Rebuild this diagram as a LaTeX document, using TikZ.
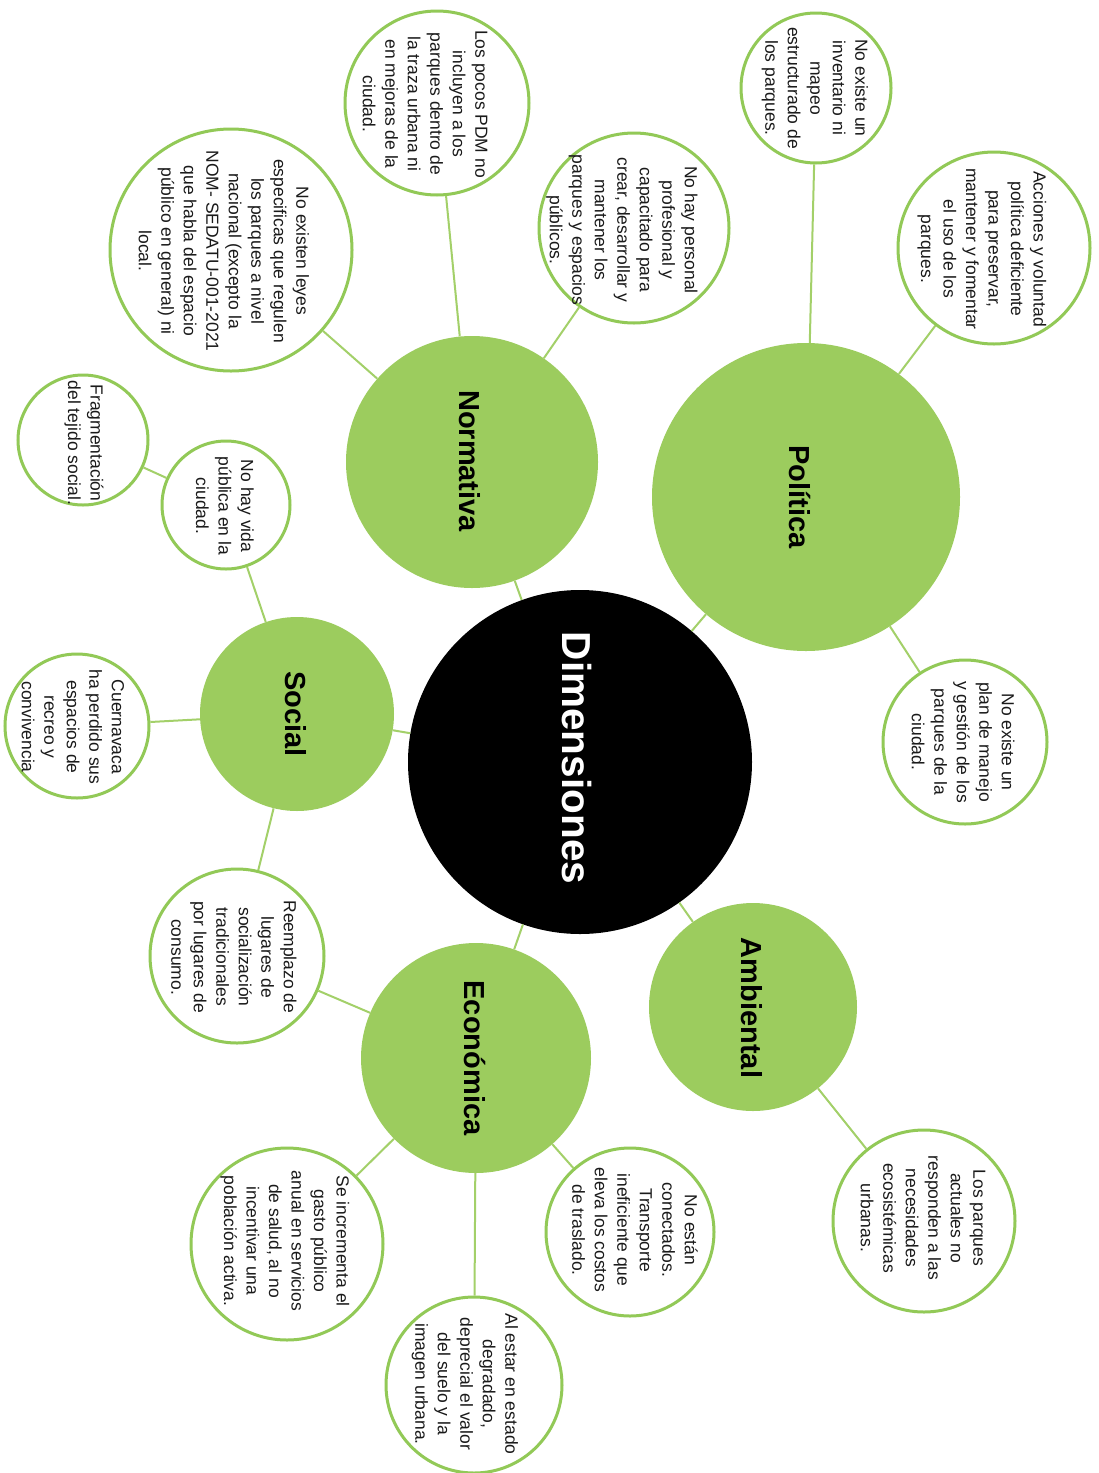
\documentclass[tikz,border=0pt]{standalone}
\usepackage{fontspec}
\setmainfont{Liberation Sans}
\definecolor{mygreen}{HTML}{9CCC5E}
\definecolor{ringgreen}{HTML}{92C957}
\definecolor{linegreen}{HTML}{A3D069}
\definecolor{txtgray}{HTML}{1A1A1A}
\tikzset{
  big/.style={circle, fill=mygreen, draw=none, minimum size=#1, inner sep=0pt},
  small/.style={circle, draw=ringgreen, line width=3pt, fill=white, minimum size=#1, inner sep=0pt},
  txt/.style={rotate=-90, align=center, inner sep=0pt, text=txtgray, font=\fontsize{17.5}{22.5}\selectfont},
  bigtxt/.style={rotate=-90, inner sep=0pt, text=black, font=\fontsize{29}{34}\selectfont\bfseries},
  link/.style={draw=linegreen, line width=2pt},
}
\begin{document}
\begin{tikzpicture}[x=1pt,y=-1pt]
\useasboundingbox[fill=white] (0,0) rectangle (1099,1473);
% main circles
\node[big=344pt, fill=black] (dim) at (580,762) {};
\node[bigtxt, text=white, font=\fontsize{40.5}{46}\selectfont\bfseries] (tdim) at (577,758) {Dimensiones};
\node[big=308pt] (pol) at (806,497) {};
\node[bigtxt] (tpol) at (800,497) {Política};
\node[big=252pt] (nor) at (472,462) {};
\node[bigtxt] (tnor) at (470,461) {Normativa};
\node[big=194pt] (soc) at (297,714) {};
\node[bigtxt] (tsoc) at (296,714) {Social};
\node[big=230pt] (eco) at (476,1058) {};
\node[bigtxt] (teco) at (475,1058) {Económica};
\node[big=208pt] (amb) at (753,1007) {};
\node[bigtxt] (tamb) at (752,1008) {Ambiental};
% small circles
\node[small=150pt] (inv) at (816,88) {};
\node[txt] (tinv) at (815,88) {No existe un\\inventario ni\\mapeo\\estructurado de\\los parques.};
\node[small=192pt] (acc) at (994,248) {};
\node[txt] (tacc) at (982,249) {Acciones y voluntad\\política deficiente\\para preservar,\\mantener y fomentar\\el uso de los\\parques.};
\node[small=164pt] (plan) at (965,742) {};
\node[txt] (tplan) at (963,742) {No existe un\\plan de manejo\\y gestión de los\\parques de la\\ciudad.};
\node[small=182pt] (act) at (924,1221) {};
\node[txt] (tact) at (923,1218) {Los parques\\actuales no\\responden a las\\necesidades\\ecosistémicas\\urbanas.};
\node[small=168pt] (con) at (630,1232) {};
\node[txt] (tcon) at (635,1230) {No están\\conectados.\\Transporte\\ineficiente que\\eleva los costos\\de traslado.};
\node[small=176pt] (deg) at (474,1385) {};
\node[txt] (tdeg) at (465,1384) {Al estar en estado\\degradado,\\deprecial el valor\\del suelo y la\\imagen urbana.};
\node[small=192pt] (gas) at (287,1244) {};
\node[txt] (tgas) at (285,1241) {Se incrementa el\\gasto público\\anual en servicios\\de salud, al no\\incentivar una\\población activa.};
\node[small=174pt] (ree) at (237,956) {};
\node[txt] (tree) at (234,957) {Reemplazo de\\lugares de\\socialización\\tradicionales\\por lugares de\\consumo.};
\node[small=144pt] (cue) at (77,726) {};
\node[txt] (tcue) at (73,727) {Cuernavaca\\ha perdido sus\\espacios de\\recreo y\\convivencia};
\node[small=128pt] (vid) at (226,505) {};
\node[txt] (tvid) at (225,506) {No hay vida\\pública en la\\ciudad.};
\node[small=130pt] (fra) at (83,440) {};
\node[txt] (tfra) at (84,443) {Fragmentación\\del tejido social.};
\node[small=242pt] (ley) at (231,250) {};
\node[txt] (tley) at (224,251) {No existen leyes\\especificas que regulen\\los parques a nivel\\nacional (excepto la\\NOM- SEDATU-001-2021\\que habla del espacio\\público en general) ni\\local.};
\node[small=184pt] (pdm) at (437,103) {};
\node[txt] (tpdm) at (425,104) {Los pocos PDM no\\incluyen a los\\parques dentro de\\la traza urbana ni\\en mejoras de la\\ciudad.};
\node[small=190pt] (per) at (634,228) {};
\node[txt] (tper) at (622,230) {No hay personal\\profesional y\\capacitado para\\crear, desarrollar y\\mantener los\\parques y espacios\\públicos.};
% connectors
\draw[link] (dim) -- (pol);
\draw[link] (dim) -- (nor);
\draw[link] (dim) -- (soc);
\draw[link] (dim) -- (eco);
\draw[link] (dim) -- (amb);
\draw[link] (pol) -- (inv);
\draw[link] (pol) -- (acc);
\draw[link] (pol) -- (plan);
\draw[link] (amb) -- (act);
\draw[link] (eco) -- (con);
\draw[link] (eco) -- (deg);
\draw[link] (eco) -- (gas);
\draw[link] (eco) -- (ree);
\draw[link] (soc) -- (ree);
\draw[link] (soc) -- (cue);
\draw[link] (soc) -- (vid);
\draw[link] (vid) -- (fra);
\draw[link] (nor) -- (ley);
\draw[link] (nor) -- (pdm);
\draw[link] (nor) -- (per);
\end{tikzpicture}
\end{document}
